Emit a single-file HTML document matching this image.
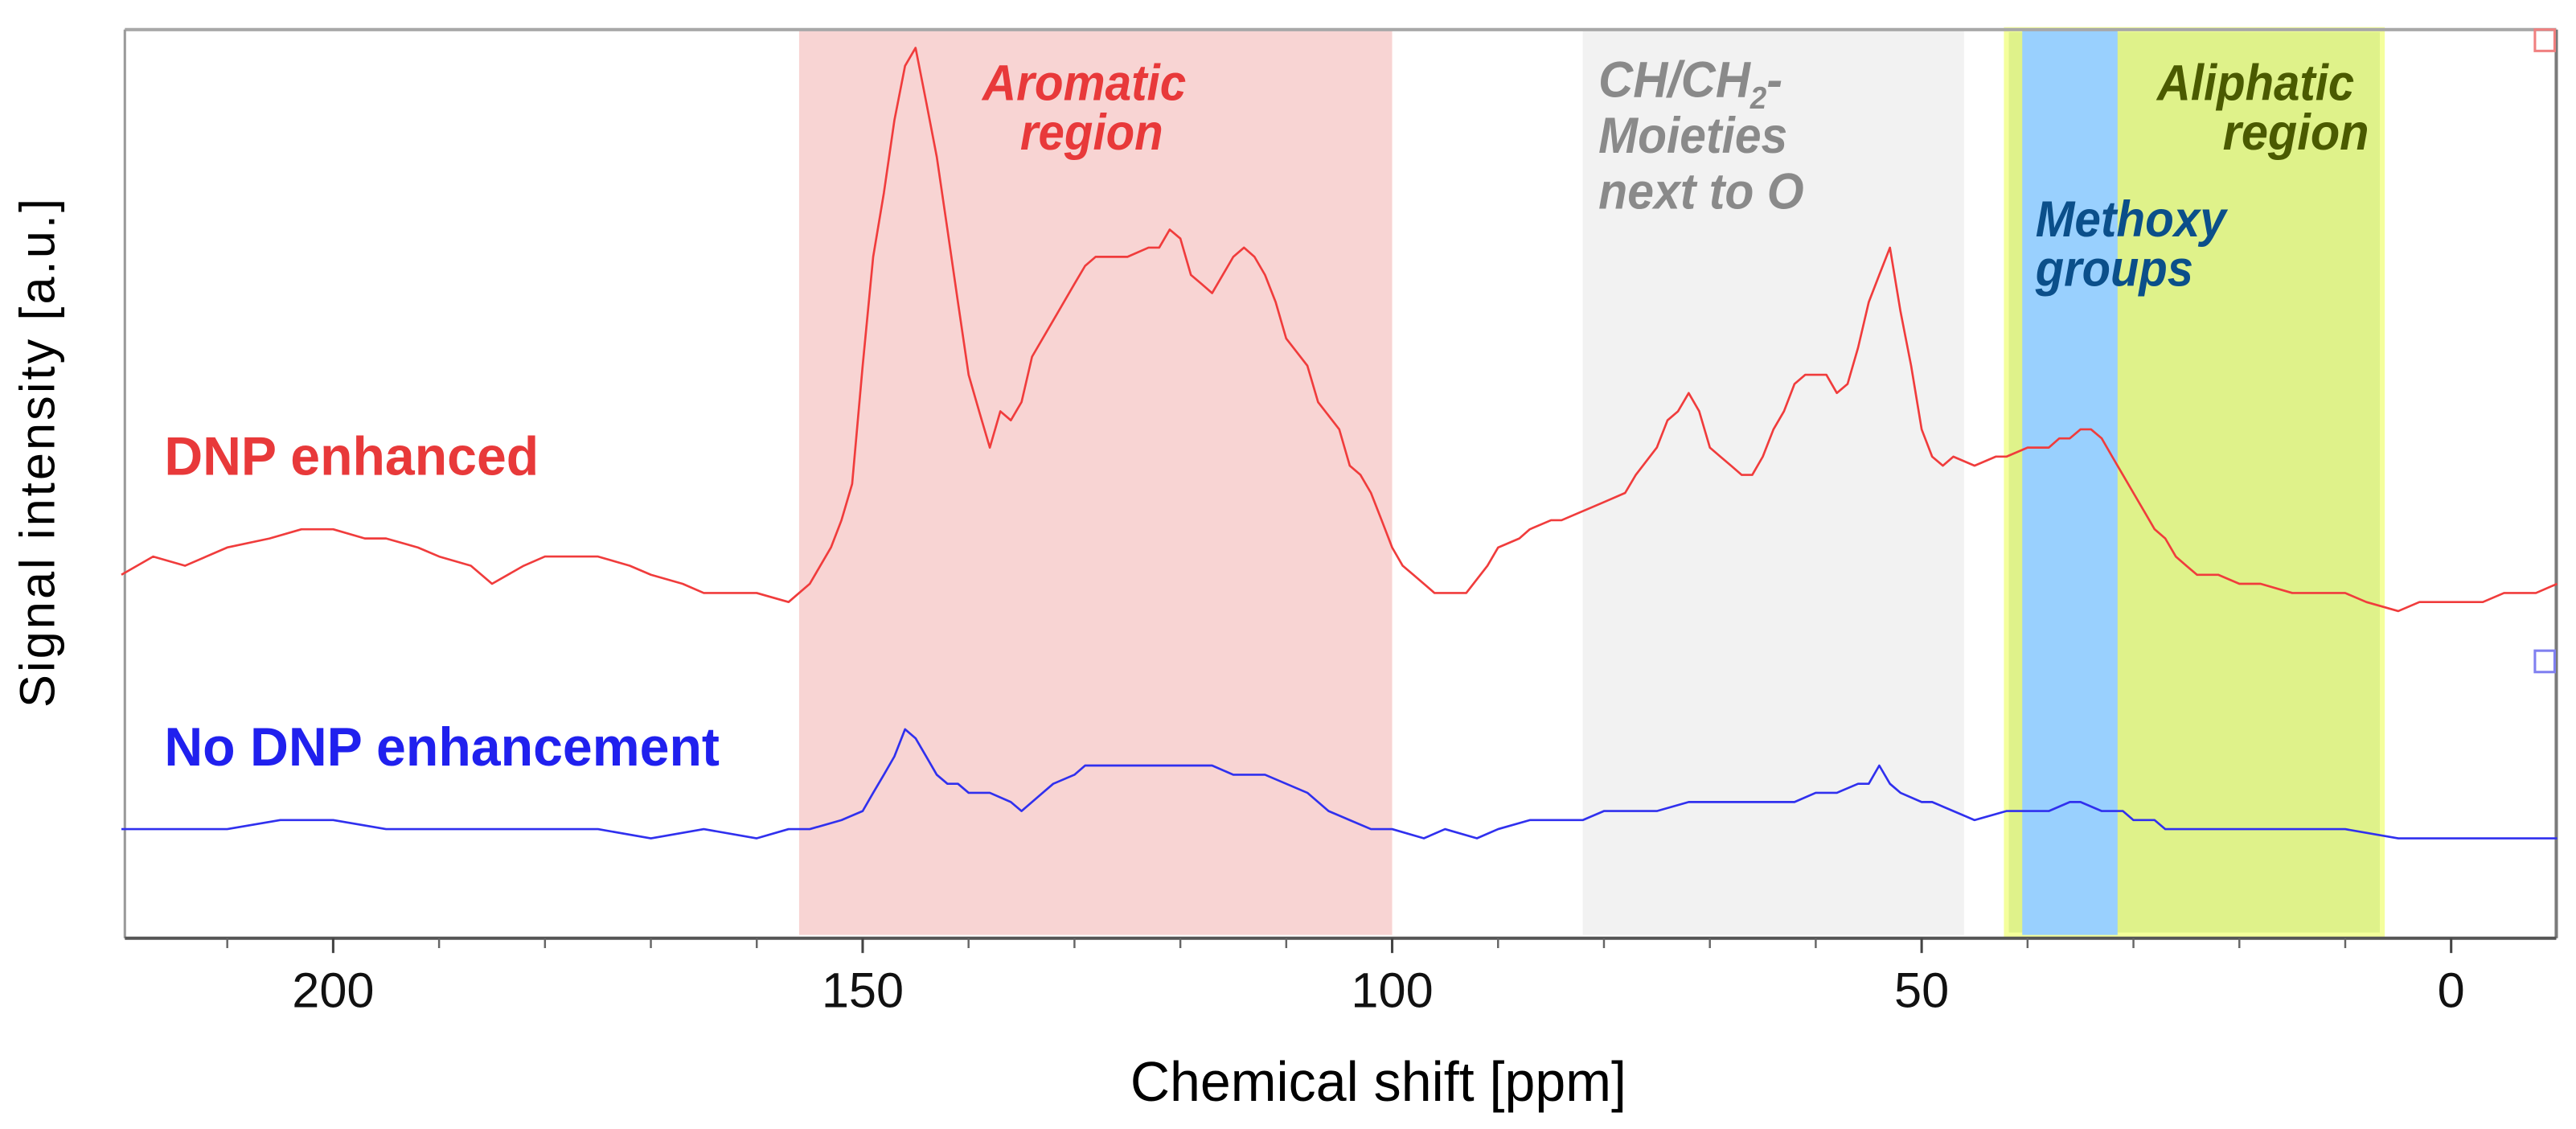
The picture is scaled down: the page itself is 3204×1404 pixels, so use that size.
<!DOCTYPE html>
<html><head><meta charset="utf-8"><style>
html,body{margin:0;padding:0;background:#fff;}
svg{display:block;}
text{font-family:"Liberation Sans",sans-serif;}
.ann{font-weight:bold;font-style:italic;font-size:31px;}
</style></head><body>
<svg id="chart" width="3204" height="1404" viewBox="0 0 1568 687.1" preserveAspectRatio="none" xmlns="http://www.w3.org/2000/svg">
<g id="bands"></g>
<g id="frame"></g>
<g id="ticks"></g>
<g id="series"></g>
<text class="ann" fill="#e8393a" x="598" y="61" textLength="124" lengthAdjust="spacingAndGlyphs">Aromatic</text>
<text class="ann" fill="#e8393a" x="621" y="91" textLength="87" lengthAdjust="spacingAndGlyphs">region</text>
<text class="ann" fill="#8a8a8a" x="973" y="59" textLength="112" lengthAdjust="spacingAndGlyphs">CH/CH<tspan font-size="19" dy="7">2</tspan><tspan dy="-7">-</tspan></text>
<text class="ann" fill="#8a8a8a" x="973" y="93" textLength="115" lengthAdjust="spacingAndGlyphs">Moieties</text>
<text class="ann" fill="#8a8a8a" x="973" y="127" textLength="125" lengthAdjust="spacingAndGlyphs">next to O</text>
<text class="ann" fill="#0b4f8a" x="1239" y="144" textLength="116" lengthAdjust="spacingAndGlyphs">Methoxy</text>
<text class="ann" fill="#0b4f8a" x="1239" y="174" textLength="96" lengthAdjust="spacingAndGlyphs">groups</text>
<text class="ann" fill="#4a5a00" x="1313" y="61" textLength="120" lengthAdjust="spacingAndGlyphs">Aliphatic</text>
<text class="ann" fill="#4a5a00" x="1353" y="91" textLength="89" lengthAdjust="spacingAndGlyphs">region</text>
<text font-weight="bold" font-size="33" fill="#e8393a" x="100" y="289" textLength="228" lengthAdjust="spacingAndGlyphs">DNP enhanced</text>
<text font-weight="bold" font-size="33" fill="#2020ee" x="100" y="466" textLength="338" lengthAdjust="spacingAndGlyphs">No DNP enhancement</text>
<text font-size="34" fill="#000" x="688" y="670" textLength="302" lengthAdjust="spacingAndGlyphs">Chemical shift [ppm]</text>
<text font-size="30" fill="#000" transform="translate(33,275) rotate(-90)" text-anchor="middle" letter-spacing="1.5">Signal intensity [a.u.]</text>
<rect x="1543" y="18" width="12" height="13" fill="none" stroke="#f08080" stroke-width="1.5"/>
<rect x="1543" y="396" width="12" height="13" fill="none" stroke="#8080f0" stroke-width="1.5"/>
</svg>
<script>
const ppmRed = [220,217,214,210,206,203,200,197,195,192,190,187,185,182,180,177,175,172,170,167,165,162,160,157,155,153,152,151,150,149,148,147,146,145,144,143,142,141,140,139,138,137,136,135,134,132,130,129,128,126,125,123,122,121,120,119,118,117,116,115,114,113,112,111,110,108,107,105,104,103,102,101,100,99,98,96,95,94,93,91,90,88,87,85,84,82,80,78,77,75,74,73,72,71,70,69,68,67,66,65,64,63,62,61,60,59,58,57,56,55,54,53,52,51,50,49,48,47,45,43,42,40,38,37,36,35,34,33,32,31,30,29,28,27,26,25,24,22,20,18,15,13,10,8,5,3,0,-3,-5,-8,-10];
const intRed = [40,42,41,43,44,45,45,44,44,43,42,41,39,41,42,42,42,41,40,39,38,38,38,37,39,43,46,50,63,75,82,90,96,98,92,86,78,70,62,58,54,58,57,59,64,68,72,74,75,75,75,76,76,78,77,73,72,71,73,75,76,75,73,70,66,63,59,56,52,51,49,46,43,41,40,38,38,38,38,41,43,44,45,46,46,47,48,49,51,54,57,58,60,58,54,53,52,51,51,53,56,58,61,62,62,62,60,61,65,70,73,76,69,63,56,53,52,53,52,53,53,54,54,55,55,56,56,55,53,51,49,47,45,44,42,41,40,40,39,39,38,38,38,37,36,37,37,37,38,38,39];
const ppmBlue = [220,215,210,205,200,195,190,185,180,175,170,165,160,157,155,152,150,149,148,147,146,145,144,143,142,141,140,138,136,135,133,132,130,129,127,125,122,120,117,115,112,110,108,106,104,102,100,97,95,92,90,87,85,82,80,77,75,72,70,67,65,62,60,58,56,55,54,53,52,50,49,47,45,42,40,38,36,35,33,31,30,28,27,24,20,15,10,5,0,-5,-10];
const intBlue = [12,12,12,13,13,12,12,12,12,12,11,12,11,12,12,13,14,16,18,20,23,22,20,18,17,17,16,16,15,14,16,17,18,19,19,19,19,19,19,18,18,17,16,14,13,12,12,11,12,11,12,13,13,13,14,14,14,15,15,15,15,15,16,16,17,17,19,17,16,15,15,14,13,14,14,14,15,15,14,14,13,13,12,12,12,12,12,11,11,11,11];
const majorTicks = [200,150,100,50,0];
const tickLabels = ["200","150","100","50","0"];
const minorTicks = [210,190,180,170,160,140,130,120,110,90,80,70,60,40,30,20,10];
const bandStart = [156,82,42,40.5];
const bandEnd = [100,46,6.5,31.5];
const bandColors = ["#f8d4d3","#f2f2f2","#dff28a","#99d0fe"];
const bandNames = ["band-aromatic","band-ch-moieties","band-aliphatic","band-methoxy"];

const NS="http://www.w3.org/2000/svg";
const PL=76,PR=1556,PT=18,PB=571;
function xOf(p){return 1492 - p*6.446;}
function yOf(v){return PB - v*5.53;}
function mk(tag,attrs,parent){const e=document.createElementNS(NS,tag);for(const k in attrs)e.setAttribute(k,attrs[k]);document.getElementById(parent).appendChild(e);return e;}

for(let i=0;i<bandStart.length;i++){
  const x1=xOf(bandStart[i]),x2=xOf(bandEnd[i]);
  const r=mk('rect',{x:x1,y:PT,width:x2-x1,height:PB-PT-2,fill:bandColors[i]},'bands');
  if(i===2){r.setAttribute('stroke','#f4ff9c');r.setAttribute('stroke-width','3');}
  
  
}
const topLine=mk('line',{x1:PL,y1:PT,x2:PR,y2:PT,stroke:'#a8a8a8','stroke-width':2},'frame');


const rightLine=mk('line',{x1:PR,y1:PT,x2:PR,y2:PB,stroke:'#7a7a7a','stroke-width':2},'frame');


const leftLine=mk('line',{x1:PL,y1:PT,x2:PL,y2:PB,stroke:'#9a9a9a','stroke-width':1.5},'frame');


const bottomLine=mk('line',{x1:PL,y1:PB,x2:PR,y2:PB,stroke:'#555','stroke-width':2},'frame');



majorTicks.forEach((p,i)=>{
  const t=mk('line',{x1:xOf(p),y1:PB,x2:xOf(p),y2:PB+9,stroke:'#444','stroke-width':1.5},'ticks');
  
  
  const lb=mk('text',{x:xOf(p),y:613,'text-anchor':'middle','font-size':30,fill:'#111'},'ticks');
  lb.textContent=tickLabels[i];
  
  
});
minorTicks.forEach(p=>{
  const t=mk('line',{x1:xOf(p),y1:PB,x2:xOf(p),y2:PB+6,stroke:'#666','stroke-width':1.2},'ticks');
  
  
});
function path(ps,vs){return ps.map((p,i)=>(i?'L':'M')+xOf(p).toFixed(1)+' '+yOf(vs[i]).toFixed(1)).join(' ');}
const pr=mk('path',{d:path(ppmRed,intRed),fill:'none',stroke:'#f03c3c','stroke-width':1.3,'stroke-linejoin':'round'},'series');


const pb=mk('path',{d:path(ppmBlue,intBlue),fill:'none',stroke:'#3030ee','stroke-width':1.3,'stroke-linejoin':'round'},'series');


</script>
</body></html>
